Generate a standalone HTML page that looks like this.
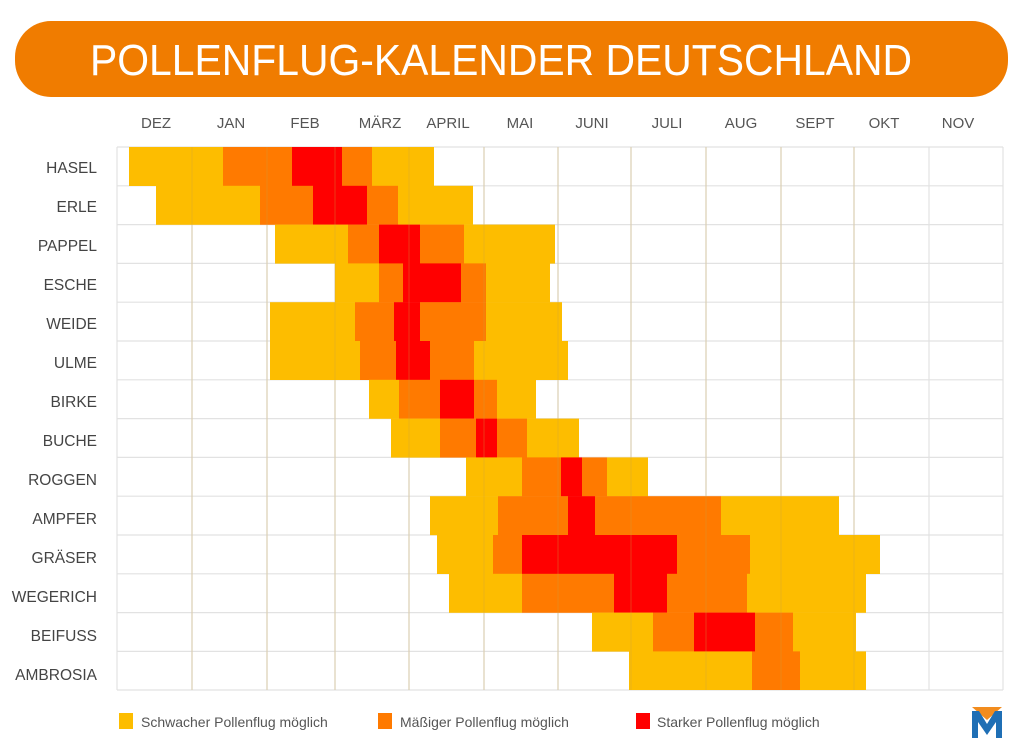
<!DOCTYPE html>
<html><head><meta charset="utf-8"><style>
html,body{margin:0;padding:0;background:#fff;}
svg{display:block;font-family:"Liberation Sans",sans-serif;}
.y{fill:#FDBD00}.o{fill:#FF7A00}.r{fill:#FF0000}
</style></head><body>
<svg width="1024" height="751" viewBox="0 0 1024 751" xmlns="http://www.w3.org/2000/svg">
<rect x="15" y="21" width="993" height="76" rx="36" fill="#F07C00"/>
<text x="90" y="75" fill="#fff" font-size="44" textLength="822" lengthAdjust="spacingAndGlyphs">POLLENFLUG-KALENDER DEUTSCHLAND</text>
<g fill="#555" font-size="15" text-anchor="middle">
<text x="156" y="128">DEZ</text><text x="231" y="128">JAN</text><text x="305" y="128">FEB</text><text x="380" y="128">MÄRZ</text><text x="448" y="128">APRIL</text><text x="520" y="128">MAI</text><text x="592" y="128">JUNI</text><text x="667" y="128">JULI</text><text x="741" y="128">AUG</text><text x="815" y="128">SEPT</text><text x="884" y="128">OKT</text><text x="958" y="128">NOV</text>
</g>
<g fill="#444" font-size="15.5" text-anchor="end">
<text x="97" y="173">HASEL</text><text x="97" y="212">ERLE</text><text x="97" y="251">PAPPEL</text><text x="97" y="290">ESCHE</text><text x="97" y="329">WEIDE</text><text x="97" y="368">ULME</text><text x="97" y="407">BIRKE</text><text x="97" y="446">BUCHE</text><text x="97" y="485">ROGGEN</text><text x="97" y="524">AMPFER</text><text x="97" y="563">GRÄSER</text><text x="97" y="602">WEGERICH</text><text x="97" y="641">BEIFUSS</text><text x="97" y="680">AMBROSIA</text>
</g>
<g id="grid" stroke="#e2e2e2" stroke-width="1.2" fill="none">
<path d="M117 147V690M192 147V690M267 147V690M335 147V690M409 147V690M484 147V690M558 147V690M631 147V690M706 147V690M781 147V690M854 147V690M929 147V690M1003 147V690"/>
<path d="M117 147H1003M117 185.8H1003M117 224.6H1003M117 263.4H1003M117 302.2H1003M117 341H1003M117 379.8H1003M117 418.6H1003M117 457.4H1003M117 496.2H1003M117 535H1003M117 573.8H1003M117 612.6H1003M117 651.4H1003M117 690H1003"/>
</g>
<g>
<rect class="y" x="129" y="147" width="94" height="39"/><rect class="o" x="223" y="147" width="69" height="39"/><rect class="r" x="292" y="147" width="50" height="39"/><rect class="o" x="342" y="147" width="30" height="39"/><rect class="y" x="372" y="147" width="62" height="39"/>
<rect class="y" x="156" y="185.8" width="104" height="39"/><rect class="o" x="260" y="185.8" width="53" height="39"/><rect class="r" x="313" y="185.8" width="54" height="39"/><rect class="o" x="367" y="185.8" width="31" height="39"/><rect class="y" x="398" y="185.8" width="75" height="39"/>
<rect class="y" x="275" y="224.6" width="73" height="39"/><rect class="o" x="348" y="224.6" width="31" height="39"/><rect class="r" x="379" y="224.6" width="41" height="39"/><rect class="o" x="420" y="224.6" width="44" height="39"/><rect class="y" x="464" y="224.6" width="91" height="39"/>
<rect class="y" x="335" y="263.4" width="44" height="39"/><rect class="o" x="379" y="263.4" width="24" height="39"/><rect class="r" x="403" y="263.4" width="58" height="39"/><rect class="o" x="461" y="263.4" width="25" height="39"/><rect class="y" x="486" y="263.4" width="64" height="39"/>
<rect class="y" x="270" y="302.2" width="85" height="39"/><rect class="o" x="355" y="302.2" width="39" height="39"/><rect class="r" x="394" y="302.2" width="26" height="39"/><rect class="o" x="420" y="302.2" width="66" height="39"/><rect class="y" x="486" y="302.2" width="76" height="39"/>
<rect class="y" x="270" y="341" width="90" height="39"/><rect class="o" x="360" y="341" width="36" height="39"/><rect class="r" x="396" y="341" width="34" height="39"/><rect class="o" x="430" y="341" width="44" height="39"/><rect class="y" x="474" y="341" width="94" height="39"/>
<rect class="y" x="369" y="379.8" width="30" height="39"/><rect class="o" x="399" y="379.8" width="41" height="39"/><rect class="r" x="440" y="379.8" width="34" height="39"/><rect class="o" x="474" y="379.8" width="23" height="39"/><rect class="y" x="497" y="379.8" width="39" height="39"/>
<rect class="y" x="391" y="418.6" width="49" height="39"/><rect class="o" x="440" y="418.6" width="36" height="39"/><rect class="r" x="476" y="418.6" width="21" height="39"/><rect class="o" x="497" y="418.6" width="30" height="39"/><rect class="y" x="527" y="418.6" width="52" height="39"/>
<rect class="y" x="466" y="457.4" width="56" height="39"/><rect class="o" x="522" y="457.4" width="39" height="39"/><rect class="r" x="561" y="457.4" width="21" height="39"/><rect class="o" x="582" y="457.4" width="25" height="39"/><rect class="y" x="607" y="457.4" width="41" height="39"/>
<rect class="y" x="430" y="496.2" width="68" height="39"/><rect class="o" x="498" y="496.2" width="70" height="39"/><rect class="r" x="568" y="496.2" width="27" height="39"/><rect class="o" x="595" y="496.2" width="126" height="39"/><rect class="y" x="721" y="496.2" width="118" height="39"/>
<rect class="y" x="437" y="535" width="56" height="39"/><rect class="o" x="493" y="535" width="29" height="39"/><rect class="r" x="522" y="535" width="155" height="39"/><rect class="o" x="677" y="535" width="73" height="39"/><rect class="y" x="750" y="535" width="130" height="39"/>
<rect class="y" x="449" y="573.8" width="73" height="39"/><rect class="o" x="522" y="573.8" width="92" height="39"/><rect class="r" x="614" y="573.8" width="53" height="39"/><rect class="o" x="667" y="573.8" width="80" height="39"/><rect class="y" x="747" y="573.8" width="119" height="39"/>
<rect class="y" x="592" y="612.6" width="61" height="39"/><rect class="o" x="653" y="612.6" width="41" height="39"/><rect class="r" x="694" y="612.6" width="61" height="39"/><rect class="o" x="755" y="612.6" width="38" height="39"/><rect class="y" x="793" y="612.6" width="63" height="39"/>
<rect class="y" x="629" y="651.4" width="123" height="38.6"/><rect class="o" x="752" y="651.4" width="48" height="38.6"/><rect class="y" x="800" y="651.4" width="66" height="38.6"/>
</g>
<g stroke="#c8a040" stroke-opacity="0.35" stroke-width="1" fill="none">
<path d="M192 147V690M267 147V690M335 147V690M409 147V690M484 147V690M558 147V690M631 147V690M706 147V690M781 147V690M854 147V690"/>
</g>
<g font-size="14" fill="#555">
<rect x="119" y="713" width="14" height="16" fill="#FDBD00"/><text x="141" y="727">Schwacher Pollenflug möglich</text>
<rect x="378" y="713" width="14" height="16" fill="#FF7A00"/><text x="400" y="727">Mäßiger Pollenflug möglich</text>
<rect x="636" y="713" width="14" height="16" fill="#FF0000"/><text x="657" y="727">Starker Pollenflug möglich</text>
</g>
<polygon points="972,707 1002,707 987,720" fill="#F28C1E"/>
<polygon points="972,711 979,711 987,724 995,711 1002,711 1002,738 996,738 996,722 987,735 978,722 978,738 972,738" fill="#1F6FB5"/>
</svg>
</body></html>
